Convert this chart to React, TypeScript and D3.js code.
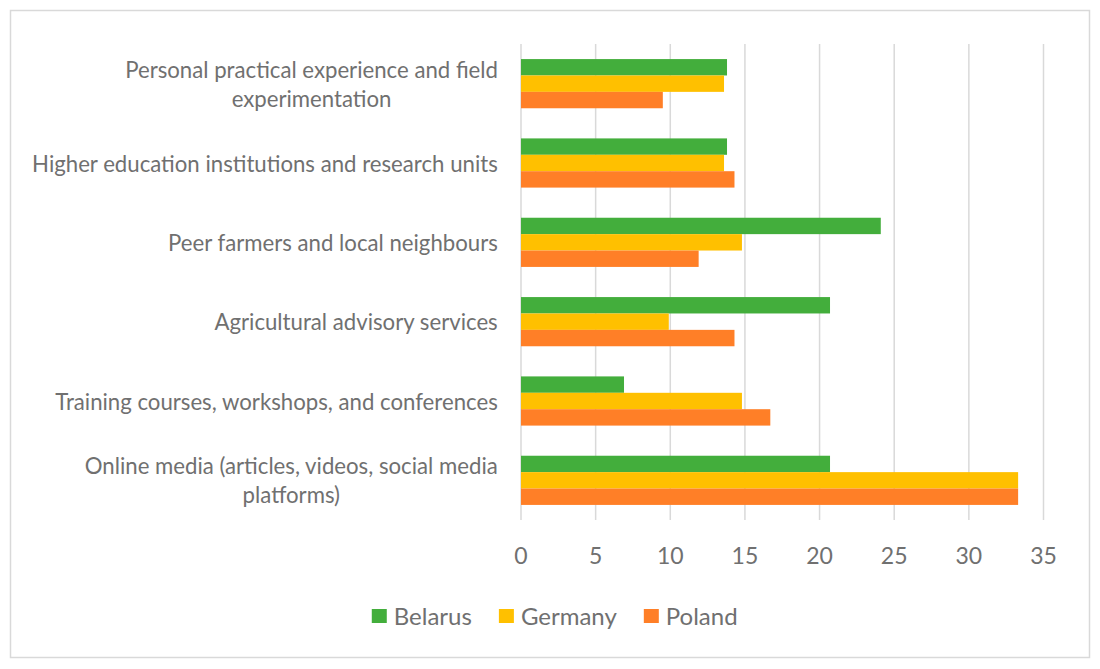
import React from "react";
import * as d3 from "d3";

const categories = [
  "Personal practical experience and field experimentation",
  "Higher education institutions and research units",
  "Peer farmers and local neighbours",
  "Agricultural advisory services",
  "Training courses, workshops, and conferences",
  "Online media (articles, videos, social media platforms)",
];
const seriesNames = ["Belarus", "Germany", "Poland"];
const belarus = [13.8, 13.8, 24.1, 20.7, 6.9, 20.7];
const germany = [13.6, 13.6, 14.8, 9.9, 14.8, 33.3];
const poland = [9.5, 14.3, 11.9, 14.3, 16.7, 33.3];
const seriesValues = [belarus, germany, poland];
const colors = ["#43ae3c", "#ffc000", "#ff7f27"];
const xTicks = [0, 5, 10, 15, 20, 25, 30, 35];

const W = 1100;
const H = 669;
const FONT = "Lato, 'Open Sans', sans-serif";
const TEXT = "#707070";

let measureCtx: CanvasRenderingContext2D | null = null;
function measure(text: string, size: number): number {
  if (!measureCtx) {
    const c = document.createElement("canvas");
    measureCtx = c.getContext("2d");
  }
  if (!measureCtx) return text.length * size * 0.48;
  measureCtx.font = `${size}px Lato`;
  return measureCtx.measureText(text).width;
}

function wrap(text: string, maxW: number, size: number): string[] {
  const words = text.split(" ");
  const lines: string[] = [];
  let cur = "";
  for (const w of words) {
    const t = cur ? cur + " " + w : w;
    if (measure(t, size) > maxW && cur) {
      lines.push(cur);
      cur = w;
    } else cur = t;
  }
  if (cur) lines.push(cur);
  return lines;
}

export default function App() {
  const x = d3.scaleLinear().domain([0, 35]).range([521, 1043.5]);
  const y = d3
    .scaleBand<string>()
    .domain(categories)
    .range([44, 520])
    .paddingInner(0.38)
    .paddingOuter(0.19);
  const ys = d3
    .scaleBand<string>()
    .domain(seriesNames)
    .range([0, y.bandwidth()]);

  const labelSize = 22.2;
  const tickSize = 23;
  const legendSize = 24;
  const labelRight = 498;

  // legend layout
  const sqW = 15;
  const sqH = 14;
  const gapSq = 7;
  const gapItem = 27;
  const widths = seriesNames.map((s) => sqW + gapSq + measure(s, legendSize));
  const totalW = d3.sum(widths) + gapItem * (seriesNames.length - 1);
  let lx = 554.7 - totalW / 2;
  const legendX = widths.map((w) => {
    const v = lx;
    lx += w + gapItem;
    return v;
  });

  return (
    <div style={{ position: "fixed", left: 0, top: 0 }}>
      <svg width={W} height={H} style={{ display: "block", fontFamily: FONT }}>
        <rect x={0} y={0} width={W} height={H} fill="#ffffff" />
        <rect
          x={10.5}
          y={10.5}
          width={1079}
          height={647}
          fill="#ffffff"
          stroke="#d9d9d9"
          strokeWidth={1.5}
        />
        {xTicks.map((t) => (
          <line
            key={"g" + t}
            x1={x(t)}
            x2={x(t)}
            y1={44}
            y2={520}
            stroke="#d9d9d9"
            strokeWidth={1.5}
          />
        ))}
        {categories.map((c, ci) => (
          <g key={c} transform={`translate(0,${y(c)})`}>
            {seriesNames.map((s, si) => (
              <rect
                key={s}
                x={x(0)}
                y={ys(s)}
                width={x(seriesValues[si][ci]) - x(0)}
                height={ys.bandwidth()}
                fill={colors[si]}
              />
            ))}
          </g>
        ))}
        {categories.map((c) => {
          const lines = wrap(c, 470, labelSize);
          const maxW = d3.max(lines, (l) => measure(l, labelSize)) as number;
          const cx = labelRight - maxW / 2;
          const cy = (y(c) as number) + y.bandwidth() / 2;
          const lh = 29;
          return (
            <text
              key={"l" + c}
              textAnchor="middle"
              fontSize={labelSize}
              fill={TEXT}
            >
              {lines.map((ln, i) => (
                <tspan
                  key={i}
                  x={cx}
                  y={cy + (i - (lines.length - 1) / 2) * lh}
                  dominantBaseline="central"
                >
                  {ln}
                </tspan>
              ))}
            </text>
          );
        })}
        {xTicks.map((t) => (
          <text
            key={"t" + t}
            x={x(t)}
            y={555}
            textAnchor="middle"
            dominantBaseline="central"
            fontSize={tickSize}
            fill={TEXT}
          >
            {t}
          </text>
        ))}
        {seriesNames.map((s, i) => (
          <g key={"lg" + s}>
            <rect x={legendX[i]} y={609} width={sqW} height={sqH} fill={colors[i]} />
            <text
              x={legendX[i] + sqW + gapSq}
              y={615}
              dominantBaseline="central"
              fontSize={legendSize}
              fill={TEXT}
            >
              {s}
            </text>
          </g>
        ))}
      </svg>
    </div>
  );
}
